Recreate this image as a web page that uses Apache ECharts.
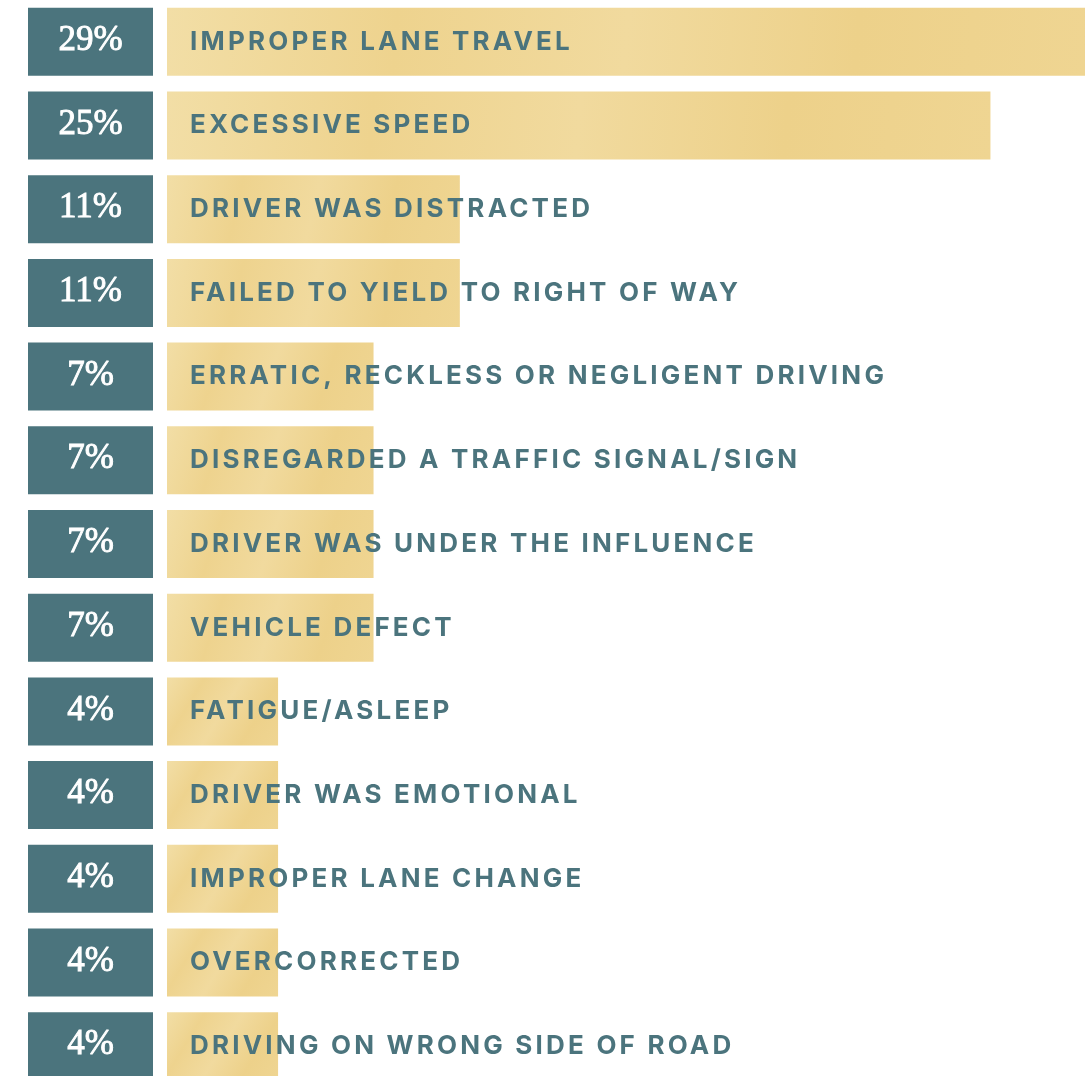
<!DOCTYPE html>
<html><head><meta charset="utf-8">
<script src="https://cdn.jsdelivr.net/npm/echarts@6/dist/echarts.min.js"></script>
<style>html,body{margin:0;padding:0;background:#fff;}#c{width:1085px;height:1076px;}</style>
</head><body><div id="c"></div>
<script>
// Contributing factors (top to bottom)
const categories = [
  'IMPROPER LANE TRAVEL','EXCESSIVE SPEED','DRIVER WAS DISTRACTED','FAILED TO YIELD TO RIGHT OF WAY',
  'ERRATIC, RECKLESS OR NEGLIGENT DRIVING','DISREGARDED A TRAFFIC SIGNAL/SIGN','DRIVER WAS UNDER THE INFLUENCE',
  'VEHICLE DEFECT','FATIGUE/ASLEEP','DRIVER WAS EMOTIONAL','IMPROPER LANE CHANGE','OVERCORRECTED',
  'DRIVING ON WRONG SIDE OF ROAD'
];
// Shown percentages
const pctLabels = ['29%','25%','11%','11%','7%','7%','7%','7%','4%','4%','4%','4%','4%'];
// Bar lengths (share of the track width, 0-100)
const barLen = [100, 89.7, 31.9, 31.9, 22.5, 22.5, 22.5, 22.5, 12.1, 12.1, 12.1, 12.1, 12.1];
const boxFill = categories.map(() => 1);

// tracked (letter-spaced) caption text, as in the reference
const LABEL_FONT = 'Inter';
(function () {
  const proto = CanvasRenderingContext2D.prototype;
  const orig = proto.fillText;
  proto.fillText = function (t, x, y, m) {
    if ('letterSpacing' in this) {
      this.letterSpacing = this.font.indexOf(LABEL_FONT) >= 0 ? '3.2px' : '0px';
    }
    return m === undefined ? orig.call(this, t, x, y) : orig.call(this, t, x, y, m);
  };
})();

const teal = '#4B747D';
const barColor = {
  type: 'linear', x: 0, y: 0, x2: 1, y2: 1,
  colorStops: [
    {offset: 0, color: '#F2DEA6'},
    {offset: 0.25, color: '#EED38E'},
    {offset: 0.5, color: '#F1DA9E'},
    {offset: 0.75, color: '#EDD18A'},
    {offset: 1, color: '#EFD592'}
  ]
};

const chart = echarts.init(document.getElementById('c'), null, {renderer: 'canvas'});
chart.setOption({
  animation: false,
  backgroundColor: '#ffffff',
  grid: [
    {left: 28, width: 125, top: 0, height: 1088, outerBoundsMode: 'none', containLabel: false},
    {left: 167, right: 0, top: 0, height: 1088, outerBoundsMode: 'none', containLabel: false}
  ],
  xAxis: [
    {gridIndex: 0, type: 'value', min: 0, max: 1, show: false},
    {gridIndex: 1, type: 'value', min: 0, max: 100, show: false}
  ],
  yAxis: [
    {gridIndex: 0, type: 'category', data: categories, inverse: true, show: false},
    {gridIndex: 1, type: 'category', data: categories, inverse: true, show: false}
  ],
  series: [
    {
      type: 'bar', xAxisIndex: 0, yAxisIndex: 0, data: boxFill, barWidth: 68,
      itemStyle: {color: teal},
      silent: true,
      label: {
        show: true, position: 'inside', offset: [0, -1],
        formatter: p => pctLabels[p.dataIndex],
        color: '#ffffff', fontFamily: 'Liberation Serif, serif', fontSize: 35,
        textBorderColor: '#ffffff', textBorderWidth: 0.9
      }
    },
    {
      type: 'bar', xAxisIndex: 1, yAxisIndex: 1, data: barLen, barWidth: 68,
      itemStyle: {color: barColor},
      silent: true,
      label: {
        show: true, position: 'insideLeft', distance: 23,
        formatter: p => categories[p.dataIndex],
        color: teal, fontFamily: LABEL_FONT, fontWeight: 'bold', fontSize: 26
      }
    }
  ]
});
</script>
</body></html>
